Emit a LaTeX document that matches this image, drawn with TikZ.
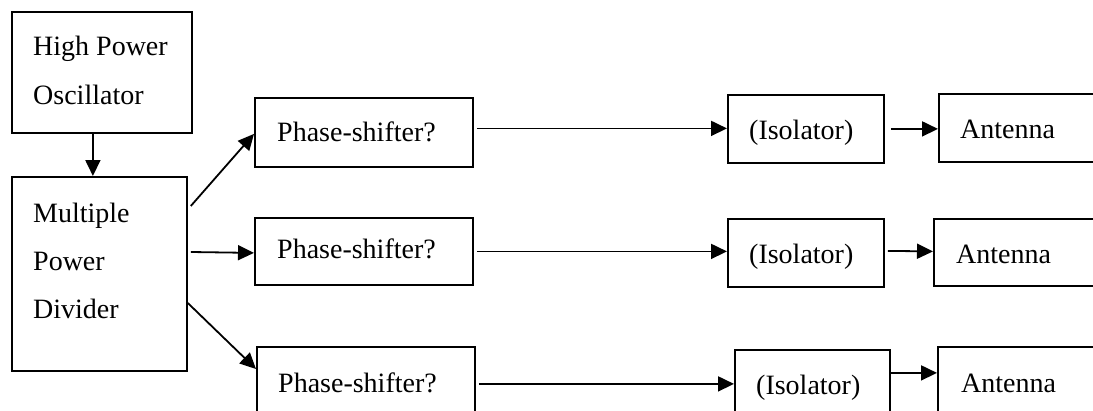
\documentclass[tikz,border=0pt]{standalone}
\usepackage{fontspec}
\setmainfont{Liberation Serif}
\usetikzlibrary{arrows.meta}
\begin{document}
\begin{tikzpicture}[x=1pt,y=-1pt,
  box/.style={draw, line width=1.8pt, inner sep=0pt, anchor=north west},
  lbl/.style={anchor=base west, inner sep=0pt, font=\fontsize{28}{34}\selectfont},
  arr/.style={line width=1.8pt, -{Triangle[length=16pt,width=15pt]}}]
\useasboundingbox (0,0) rectangle (1093,410);
\clip (0,0) rectangle (1093,410);
% boxes
\node[box, minimum width=180pt, minimum height=121pt] (osc) at (11,11) {};
\node[box, minimum width=175pt, minimum height=194pt] (div) at (11,176) {};
\node[box, minimum width=218pt, minimum height=69pt] (ps1) at (254,97) {};
\node[box, minimum width=218pt, minimum height=67pt] (ps2) at (254,217) {};
\node[box, minimum width=218pt, minimum height=68pt] (ps3) at (256,346) {};
\node[box, minimum width=156pt, minimum height=68pt] (iso1) at (727,94) {};
\node[box, minimum width=156pt, minimum height=68pt] (iso2) at (727,218) {};
\node[box, minimum width=155pt, minimum height=68pt] (iso3) at (734,349) {};
\node[box, minimum width=200pt, minimum height=68pt] (ant1) at (938,93) {};
\node[box, minimum width=200pt, minimum height=67pt] (ant2) at (933,218) {};
\node[box, minimum width=200pt, minimum height=68pt] (ant3) at (937,346) {};
% texts
\node[lbl] (tosc1) at (33,55) {High Power};
\node[lbl] (tosc2) at (33,104) {Oscillator};
\node[lbl] (tdiv1) at (33,222) {Multiple};
\node[lbl] (tdiv2) at (33,270) {Power};
\node[lbl] (tdiv3) at (33,318) {Divider};
\node[lbl] (tps1) at (277,141) {Phase-shifter?};
\node[lbl] (tps2) at (277,258) {Phase-shifter?};
\node[lbl] (tps3) at (278,392) {Phase-shifter?};
\node[lbl] (tiso1) at (749,139) {(Isolator)};
\node[lbl] (tiso2) at (749,263) {(Isolator)};
\node[lbl] (tiso3) at (756,394) {(Isolator)};
\node[lbl] (tant1) at (960,138) {Antenna};
\node[lbl] (tant2) at (956,263) {Antenna};
\node[lbl] (tant3) at (961,392) {Antenna};
% connectors
\draw[arr] ([xshift=-9pt]osc.south) -- ([xshift=-6.5pt]div.north);
\draw[arr] ([shift={(3pt,-30pt)}]div.north east) -- ([yshift=-1.5pt]ps1.west);
\draw[arr] ([shift={(3pt,-76pt)}]div.north east) -- ([yshift=-1.5pt]ps2.west);
\draw[arr] ([yshift=-127pt]div.north east) -- ([yshift=-23pt]ps3.north west);
\draw[arr] ([shift={(3pt,4pt)}]ps1.east) -- ([yshift=0.5pt]iso1.west);
\draw[arr] ([shift={(3pt,0pt)}]ps2.east) -- ([yshift=1.5pt]iso2.west);
\draw[arr] ([shift={(3pt,-3pt)}]ps3.east) -- (iso3.west);
\draw[arr] ([xshift=6pt]iso1.east) -- ([yshift=-1pt]ant1.west);
\draw[arr] ([shift={(3pt,2pt)}]iso2.east) -- ([yshift=1pt]ant2.west);
\draw[arr] ([shift={(0pt,11pt)}]iso3.east) -- ([yshift=8pt]ant3.west);
\end{tikzpicture}
\end{document}
